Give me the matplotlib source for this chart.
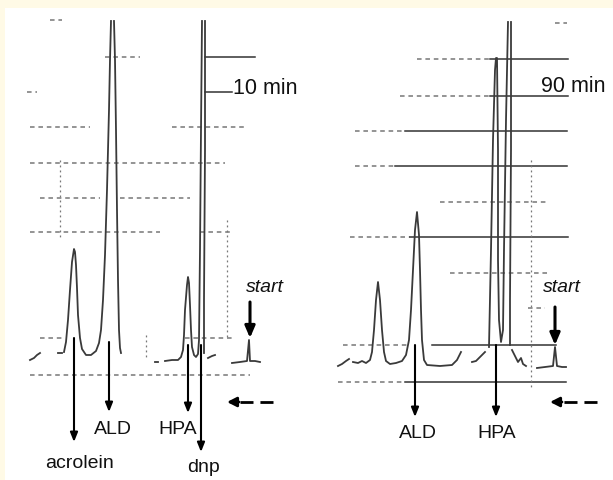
import matplotlib.pyplot as plt
from matplotlib.patches import Rectangle

plt.rcParams['font.family'] = ['Liberation Sans', 'DejaVu Sans']

# ---------------------------------------------------------------------------
# Trace segments (image pixel coordinates)
left_trace = [
    [(30, 360), (34, 358), (37, 355), (40, 353)],
    [(58, 353), (62, 353)],
    [(64, 352), (66, 342), (68, 320), (70, 290), (72, 262), (74, 249), (75, 252),
     (76, 265), (77, 288), (78, 315), (80, 338), (82, 349), (86, 355), (91, 355),
     (96, 351), (99, 343), (101, 330), (103, 300), (105, 255), (107, 190),
     (109, 110), (110, 60), (111, 21)],
    [(114, 21), (115, 60), (116, 130), (117, 210), (118, 280), (119, 330),
     (120, 348), (121, 353)],
    [(155, 362), (158, 362)],
    [(165, 361), (172, 360), (178, 360), (181, 357), (183, 350), (184, 335),
     (185, 310), (187, 285), (188, 277), (189, 283), (190, 305), (191, 330),
     (192, 347), (194, 355), (196, 357), (198, 354), (199, 340), (200, 250),
     (201, 130), (202, 21)],
    [(205, 21), (205, 150), (204, 300), (204, 353)],
    [(208, 358), (212, 356), (215, 355)],
    [(232, 363), (240, 362), (247, 361), (249, 340), (250, 361), (255, 361),
     (260, 362)],
]

right_trace = [
    [(338, 366), (342, 364), (346, 361), (349, 359)],
    [(353, 362), (358, 363), (362, 361), (366, 363), (370, 360), (372, 352),
     (374, 330), (376, 300), (378, 282), (380, 300), (382, 330), (384, 352),
     (386, 361), (390, 364), (396, 363), (402, 361), (406, 355), (409, 340),
     (411, 310), (413, 270), (415, 230), (417, 212), (419, 235), (420, 270),
     (421, 310), (422, 340), (424, 360), (427, 365), (440, 366), (452, 365),
     (457, 360), (461, 352)],
    [(472, 362), (476, 361), (480, 357), (485, 352)],
    [(489, 347), (491, 250), (493, 140), (495, 70), (496, 58), (497, 58),
     (498, 150), (498, 260), (499, 320), (501, 342), (503, 330), (504, 250),
     (506, 120), (508, 22)],
    [(511, 22), (511, 150), (510, 300), (510, 345)],
    [(512, 350), (515, 356), (518, 362), (521, 358), (523, 364), (526, 366)],
    [(537, 368), (545, 367), (553, 366), (555, 347), (557, 366), (562, 367),
     (566, 367)],
]

# Ruled chart-paper lines (y, x_start, x_end)
dashed_rules = [
    (20, 50, 62), (57, 105, 140), (92, 27, 37), (127, 30, 90), (127, 172, 247),
    (163, 30, 225), (198, 40, 100), (198, 120, 190), (232, 30, 160),
    (232, 200, 230), (338, 40, 65), (338, 185, 235), (375, 30, 250),
    (23, 555, 567), (59, 417, 490), (96, 400, 490), (131, 355, 405),
    (166, 355, 395), (202, 440, 548), (237, 350, 410), (273, 450, 548),
    (308, 528, 545), (345, 343, 407), (382, 338, 405),
]
solid_rules = [
    (57, 205, 255), (92, 205, 232),
    (59, 490, 568), (96, 490, 568), (131, 405, 567), (166, 395, 567),
    (237, 410, 568), (345, 432, 556), (382, 405, 566),
]
# vertical dotted rules (x, y_start, y_end)
dotted_verticals = [(60, 160, 240), (227, 220, 340), (146, 335, 360), (531, 160, 387)]

# Peak labels: text, arrow x, arrow top, arrow tip, label x, label y
peak_labels = ['acrolein', 'ALD', 'HPA', 'dnp', 'ALD', 'HPA']
label_arrow_x = [74, 109, 188, 201, 415, 496]
label_arrow_top = [338, 342, 345, 345, 345, 345]
label_arrow_tip = [442, 412, 413, 452, 417, 417]
label_text_x = [80, 113, 178, 204, 418, 497]
label_text_y = [463, 430, 430, 467, 433, 433]

# time stamps and start markers
time_labels = ['10 min', '90 min']
time_x = [265, 573]
time_y = [88, 86]
start_x = [250, 555]
start_arrow_top = [302, 307]
start_arrow_tip = [338, 345]
start_text_x = [265, 562]
start_text_y = [287, 288]
flow_arrow_right = [273, 597]
flow_arrow_left = [227, 550]
flow_arrow_y = 402

# ---------------------------------------------------------------------------
fig = plt.figure(figsize=(6.13, 4.80), dpi=100, facecolor='#FFFAE6')
ax = fig.add_axes([0, 0, 1, 1])
ax.set_xlim(0, 613)
ax.set_ylim(480, 0)
ax.axis('off')
ax.add_patch(Rectangle((5, 8), 620, 480, facecolor='white', edgecolor='none', zorder=0))

for y, x0, x1 in dashed_rules:
    ax.plot([x0, x1], [y, y], color='#555555', lw=1.1, dashes=(3, 2.5), alpha=0.8)
for y, x0, x1 in solid_rules:
    ax.plot([x0, x1], [y, y], color='#333333', lw=1.1)
for x, y0, y1 in dotted_verticals:
    ax.plot([x, x], [y0, y1], color='#777777', lw=0.9, dashes=(1.5, 2.5))

for seg in left_trace + right_trace:
    xs, ys = zip(*seg)
    ax.plot(xs, ys, color='#3a3a3a', lw=1.3, solid_joinstyle='round')

for i, name in enumerate(peak_labels):
    ax.annotate('', xy=(label_arrow_x[i], label_arrow_tip[i]),
                xytext=(label_arrow_x[i], label_arrow_top[i]),
                arrowprops=dict(arrowstyle='-|>,head_length=0.55,head_width=0.22',
                                lw=1.5, color='black', shrinkA=0, shrinkB=0))
    ax.text(label_text_x[i], label_text_y[i], name, fontsize=14,
            ha='center', va='center', color='#111111')

for i in range(2):
    ax.text(time_x[i], time_y[i], time_labels[i], fontsize=15.5,
            ha='center', va='center', color='#111111')
    ax.annotate('', xy=(start_x[i], start_arrow_tip[i]),
                xytext=(start_x[i], start_arrow_top[i]),
                arrowprops=dict(arrowstyle='-|>,head_length=0.7,head_width=0.3',
                                lw=2.2, color='black', shrinkA=0, shrinkB=0))
    ax.text(start_text_x[i], start_text_y[i], 'start', fontsize=14,
            style='italic', ha='center', va='center', color='#111111')
    # dashed flow arrow
    x_head = flow_arrow_left[i]
    ax.plot([flow_arrow_right[i], x_head + 13], [flow_arrow_y, flow_arrow_y],
            color='black', lw=2, dashes=(4.7, 2.5), solid_capstyle='butt')
    ax.annotate('', xy=(x_head, flow_arrow_y), xytext=(x_head + 12, flow_arrow_y),
                arrowprops=dict(arrowstyle='-|>,head_length=0.55,head_width=0.28',
                                lw=2, color='black', shrinkA=0, shrinkB=0))

fig.savefig('out.png', dpi=100, facecolor=fig.get_facecolor())
